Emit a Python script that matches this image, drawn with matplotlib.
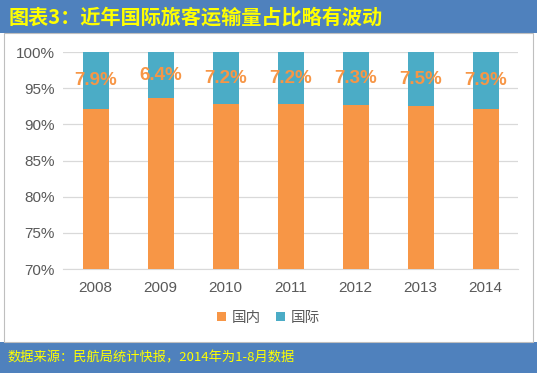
import matplotlib.pyplot as plt
import matplotlib.patches as mpatches
import numpy as np

plt.rcParams['font.family'] = ['Noto Sans CJK SC', 'DejaVu Sans']

years = ['2008', '2009', '2010', '2011', '2012', '2013', '2014']
intl = [7.9, 6.4, 7.2, 7.2, 7.3, 7.5, 7.9]
domestic = [100 - v for v in intl]

W, H = 537, 373
fig = plt.figure(figsize=(W / 100, H / 100), dpi=100)
fig.patch.set_facecolor('white')

band = '#4F81BD'
# title band and footer band
fig.add_artist(mpatches.Rectangle((0, 1 - 33 / H), 1, 33 / H, transform=fig.transFigure,
                                  facecolor=band, edgecolor='none', zorder=-10))
fig.add_artist(mpatches.Rectangle((0, 0), 1, 31 / H, transform=fig.transFigure,
                                  facecolor=band, edgecolor='none', zorder=-10))
# white panel border
fig.add_artist(mpatches.Rectangle((4 / W, 31 / H), 529 / W, (H - 64) / H, transform=fig.transFigure,
                                  facecolor='white', edgecolor='#BFBFBF', linewidth=0.8, zorder=-10))

fig.text(9 / W, 1 - 17 / H, '图表3：近年国际旅客运输量占比略有波动', color='#FFFF00',
         fontsize=14.5, fontweight='bold', va='center', ha='left')
fig.text(7 / W, 15 / H, '数据来源：民航局统计快报，2014年为1-8月数据', color='#FFFF00',
         fontsize=9.5, va='center', ha='left')

ax = fig.add_axes([63 / W, 1 - 269 / H, 455 / W, 217 / H])
ax.set_facecolor('none')
x = np.arange(len(years))
orange = '#F79646'
blue = '#4BACC6'
ax.bar(x, domestic, width=0.4, color=orange, label='国内', zorder=3)
ax.bar(x, intl, width=0.4, bottom=domestic, color=blue, label='国际', zorder=3)

for i, v in enumerate(intl):
    ax.text(x[i], domestic[i] + v / 2, f'{v}%', ha='center', va='center',
            color=orange, fontsize=13.5, fontweight='bold', family='Liberation Sans', zorder=4)

ax.set_ylim(70, 100)
ax.set_xlim(-0.5, len(years) - 0.5)
ax.set_yticks(range(70, 101, 5))
ax.set_yticklabels([f'{t}%' for t in range(70, 101, 5)], family='Liberation Sans')
ax.set_xticks(x)
ax.set_xticklabels(years, family='Liberation Sans')
ax.tick_params(axis='both', length=0, labelsize=11, labelcolor='#595959')
ax.tick_params(axis='x', pad=9)
ax.tick_params(axis='y', pad=6)
ax.grid(axis='y', color='#D9D9D9', linewidth=0.9, zorder=0)
for s in ax.spines.values():
    s.set_visible(False)
ax.spines['bottom'].set_visible(True)
ax.spines['bottom'].set_color('#D9D9D9')

ax.legend(loc='center', bbox_to_anchor=(0.5, 1 - 318 / H), bbox_transform=fig.transFigure,
          ncol=2, frameon=False, fontsize=10.5, handlelength=0.6, handleheight=0.6,
          handletextpad=0.4, columnspacing=1.0, labelcolor='#595959')

fig.savefig('out.png', dpi=100)
